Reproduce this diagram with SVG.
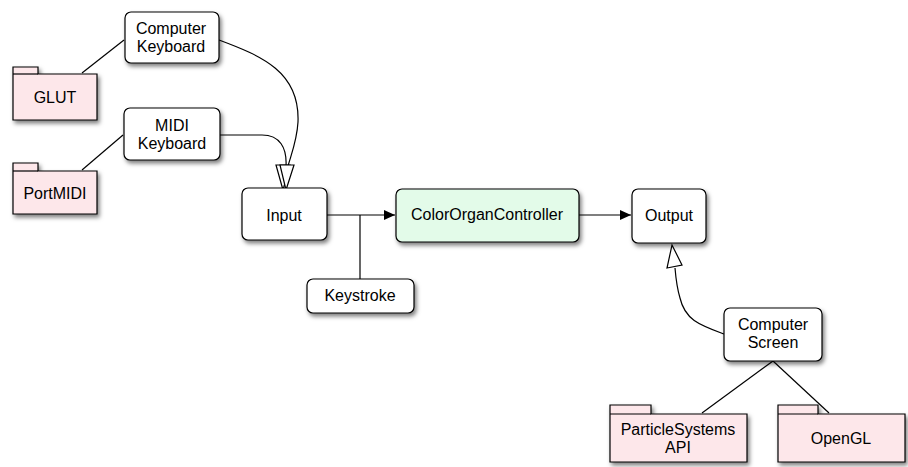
<svg xmlns="http://www.w3.org/2000/svg" width="908" height="467" viewBox="0 0 908 467">
<style>
text{font-family:"Liberation Sans",Arial,sans-serif;font-size:16px;fill:#000;text-anchor:middle}
.box{fill:#fff;stroke:#000;stroke-width:1.2;filter:url(#sh)}
.green{fill:#e3fbe9}
.pkg{fill:#fde7ea;stroke:#000;stroke-width:1.2;filter:url(#sh)}
.ln{fill:none;stroke:#000;stroke-width:1.2}
.open{fill:#fff;stroke:#000;stroke-width:1.2}
</style>
<defs>
<filter id="sh" x="-20%" y="-20%" width="150%" height="160%">
<feDropShadow dx="2" dy="3" stdDeviation="2.2" flood-color="#000" flood-opacity="0.5"/>
</filter>
<marker id="fa" markerWidth="12" markerHeight="10" refX="11" refY="5" orient="auto" markerUnits="userSpaceOnUse">
<path d="M0,0 L11,5 L0,10 Z" fill="#000"/>
</marker>
</defs>
<g id="connectors">
<path class="ln" d="M82,73 L124,40"/>
<path class="ln" d="M82,170 L123,135"/>
<path class="ln" d="M219,40 C262,56 300,72 298,122 C297,140 292,152 288,166"/>
<path class="ln" d="M220,135 L262,135 C280,135 287,148 286,166"/>
<path class="open" d="M276,165 L290,165 L283,190 Z"/>
<path class="open" d="M280,165 L294,165 L286,190 Z"/>
<path class="ln" d="M327,215 L395,215" marker-end="url(#fa)"/>
<path class="ln" d="M360,215 L360,279"/>
<path class="ln" d="M579,215 L631,215" marker-end="url(#fa)"/>
<path class="ln" d="M724,334 C700,325 685,320 680,298 C677,288 676,280 675,268"/>
<path class="open" d="M667,268 L682,265 L672,245 Z"/>
<path class="ln" d="M773,361 L702,413"/>
<path class="ln" d="M773,361 L829,413"/>
</g>
<g id="computer-keyboard">
<rect class="box" x="125" y="12" width="94" height="51" rx="6"/>
<text x="171" y="34">Computer</text>
<text x="171" y="52">Keyboard</text>
</g>
<g id="glut">
<path class="pkg" d="M13,74 L13,67 L38,67 L38,74 L97,74 L97,120 L13,120 Z"/>
<path class="ln" d="M13,74 L38,74"/>
<text x="55" y="103">GLUT</text>
</g>
<g id="midi-keyboard">
<rect class="box" x="124" y="108" width="96" height="52" rx="6"/>
<text x="172" y="131">MIDI</text>
<text x="172" y="149">Keyboard</text>
</g>
<g id="portmidi">
<path class="pkg" d="M13,171 L13,163 L38,163 L38,171 L97,171 L97,214 L13,214 Z"/>
<path class="ln" d="M13,171 L38,171"/>
<text x="55" y="199">PortMIDI</text>
</g>
<g id="input">
<rect class="box" x="242" y="188" width="85" height="52" rx="6"/>
<text x="284" y="221">Input</text>
</g>
<g id="color-organ-controller">
<rect class="box green" x="396" y="189" width="183" height="53" rx="6"/>
<text x="487" y="220">ColorOrganController</text>
</g>
<g id="keystroke">
<rect class="box" x="307" y="279" width="107" height="34" rx="6"/>
<text x="360" y="301">Keystroke</text>
</g>
<g id="output">
<rect class="box" x="632" y="189" width="74" height="54" rx="6"/>
<text x="669" y="221">Output</text>
</g>
<g id="computer-screen">
<rect class="box" x="724" y="308" width="98" height="53" rx="6"/>
<text x="773" y="330">Computer</text>
<text x="773" y="348">Screen</text>
</g>
<g id="particle-systems-api">
<path class="pkg" d="M610,414 L610,405 L651,405 L651,414 L747,414 L747,462 L610,462 Z"/>
<path class="ln" d="M610,414 L651,414"/>
<text x="678" y="435">ParticleSystems</text>
<text x="678" y="453">API</text>
</g>
<g id="opengl">
<path class="pkg" d="M778,414 L778,405 L818,405 L818,414 L905,414 L905,462 L778,462 Z"/>
<path class="ln" d="M778,414 L818,414"/>
<text x="841" y="444">OpenGL</text>
</g>
</svg>
